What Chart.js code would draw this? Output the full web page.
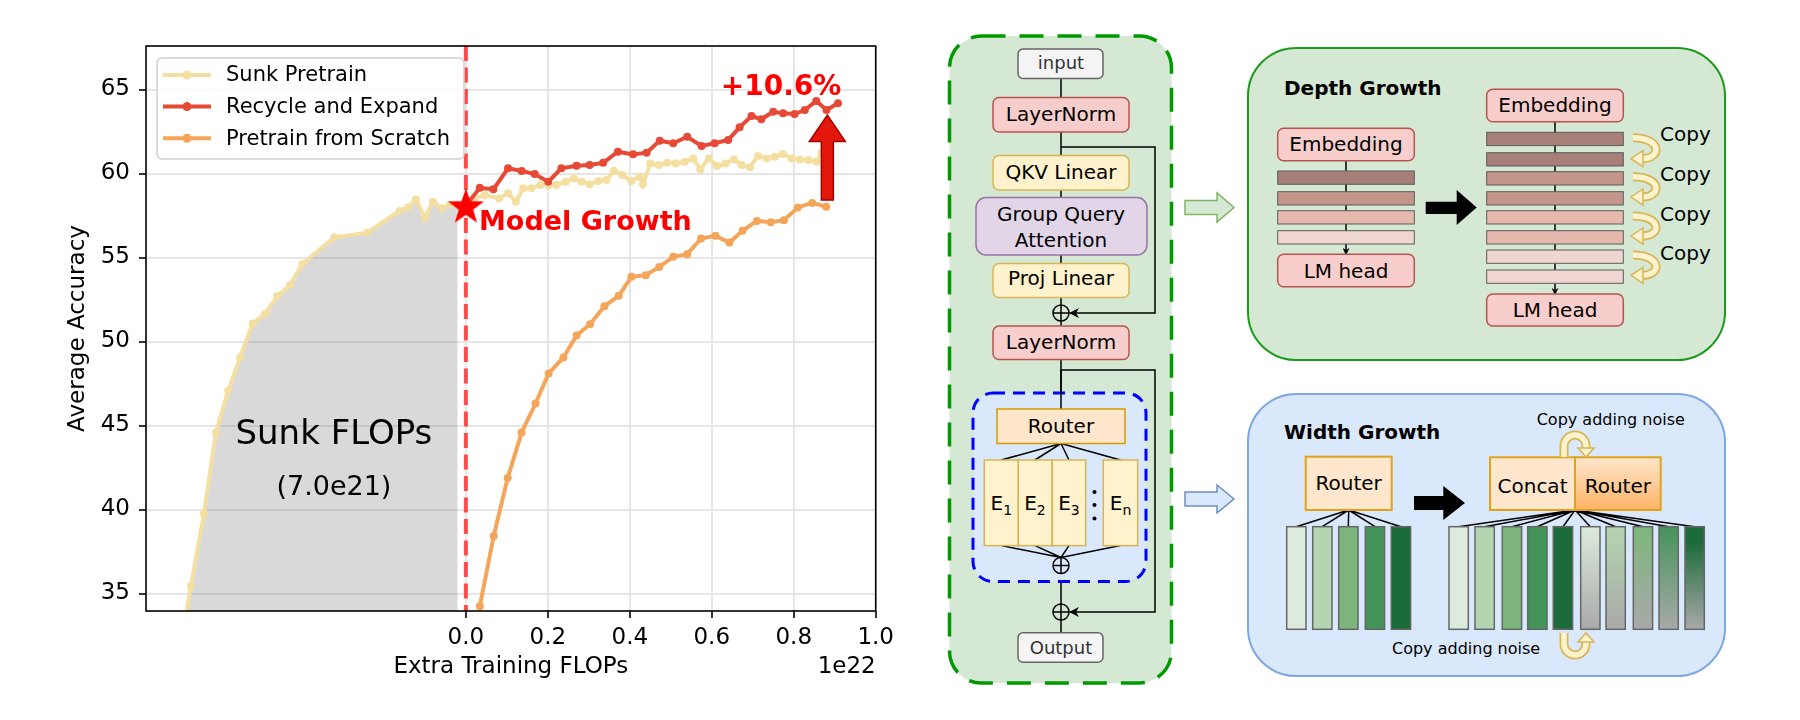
<!DOCTYPE html>
<html>
<head>
<meta charset="utf-8">
<script src="https://cdn.jsdelivr.net/npm/chart.js@4.4.0/dist/chart.umd.min.js"></script>
<style>
  html, body { margin: 0; padding: 0; background: #fff; }
  #wrap { position: relative; width: 1800px; height: 720px; overflow: hidden; }
  #chart { position: absolute; left: 0; top: 0; }
  #diagram { position: absolute; left: 900px; top: 0; }
</style>
</head>
<body>
<div id="wrap">
<canvas id="chart" width="900" height="720"></canvas>

<svg id="diagram" width="900" height="720" viewBox="900 0 900 720" font-family="DejaVu Sans, sans-serif">
  <defs>
    <marker id="ah" markerWidth="10" markerHeight="10" refX="9" refY="5" orient="auto" markerUnits="userSpaceOnUse">
      <path d="M0,0 L10,5 L0,10 L3,5 z" fill="#000"/>
    </marker>
    <marker id="ahs" markerWidth="7" markerHeight="7" refX="6" refY="3.5" orient="auto" markerUnits="userSpaceOnUse">
      <path d="M0,0 L7,3.5 L0,7 L2,3.5 z" fill="#000"/>
    </marker>
    <linearGradient id="rt" x1="0" y1="0" x2="0" y2="1">
      <stop offset="0" stop-color="#ffe6cc"/><stop offset="1" stop-color="#ffb366"/>
    </linearGradient>
    <linearGradient id="gA" x1="0" y1="0" x2="0" y2="1"><stop offset="0" stop-color="#dcebdb"/><stop offset="1" stop-color="#a9a9a9"/></linearGradient>
    <linearGradient id="gB" x1="0" y1="0" x2="0" y2="1"><stop offset="0" stop-color="#b3d5af"/><stop offset="1" stop-color="#a9a9a9"/></linearGradient>
    <linearGradient id="gC" x1="0" y1="0" x2="0" y2="1"><stop offset="0" stop-color="#7db67c"/><stop offset="1" stop-color="#a9a9a9"/></linearGradient>
    <linearGradient id="gD" x1="0" y1="0" x2="0" y2="1"><stop offset="0" stop-color="#44945a"/><stop offset="1" stop-color="#a9a9a9"/></linearGradient>
    <linearGradient id="gE" x1="0" y1="0" x2="0" y2="1"><stop offset="0" stop-color="#1c6b3b"/><stop offset="0.15" stop-color="#1c6b3b"/><stop offset="1" stop-color="#a9a9a9"/></linearGradient>
  </defs>

  <!-- MoE block -->
  <rect x="949.5" y="36" width="222" height="647" rx="32" fill="#d5e8d4" stroke="#009900" stroke-width="3.5" stroke-dasharray="24 14"/>
  <path d="M1061 78 V97 M1061 132 V155 M1061 190 V197 M1061 255 V263 M1061 297 V305 M1061 321 V326 M1061 359 V409 M1061 573 V604 M1061 620 V633"
        stroke="#000" stroke-width="1.5" fill="none"/>
  <path d="M1061 147 H1155 V313 H1070" stroke="#000" stroke-width="1.5" fill="none" marker-end="url(#ah)"/>
  <path d="M1061 370 H1155 V612 H1070" stroke="#000" stroke-width="1.5" fill="none" marker-end="url(#ah)"/>

  <rect x="1018" y="49" width="85" height="29.5" rx="5" fill="#f5f5f5" stroke="#666" stroke-width="1.5"/>
  <text x="1061" y="68.5" font-size="18" fill="#333" text-anchor="middle">input</text>

  <rect x="993" y="97.5" width="136" height="34.5" rx="6" fill="#f8cecc" stroke="#b85450" stroke-width="1.5"/>
  <text x="1061" y="120.5" font-size="20" text-anchor="middle">LayerNorm</text>

  <rect x="993" y="155.5" width="136" height="34.5" rx="6" fill="#fff2cc" stroke="#d6b656" stroke-width="1.5"/>
  <text x="1061" y="178.5" font-size="20" text-anchor="middle">QKV Linear</text>

  <rect x="976" y="197.5" width="171" height="57.5" rx="10" fill="#e1d5e7" stroke="#9673a6" stroke-width="1.5"/>
  <text x="1061" y="220.5" font-size="20" text-anchor="middle">Group Query</text>
  <text x="1061" y="246.5" font-size="20" text-anchor="middle">Attention</text>

  <rect x="993" y="263.5" width="136" height="34" rx="6" fill="#fff2cc" stroke="#d6b656" stroke-width="1.5"/>
  <text x="1061" y="285" font-size="20" text-anchor="middle">Proj Linear</text>

  <g stroke="#000" stroke-width="1.5" fill="none">
    <circle cx="1061" cy="313" r="8"/><path d="M1053 313 H1069 M1061 305 V321"/>
  </g>

  <rect x="993" y="326" width="136" height="33.5" rx="6" fill="#f8cecc" stroke="#b85450" stroke-width="1.5"/>
  <text x="1061" y="348.5" font-size="20" text-anchor="middle">LayerNorm</text>

  <rect x="973" y="393" width="173" height="188.5" rx="20" fill="#dae8fc" stroke="#0000ff" stroke-width="3" stroke-dasharray="12 8"/>
  <path d="M1061 370 V409" stroke="#000" stroke-width="1.5"/>
  <path d="M1061 443.5 L1001.3 460 M1061 443.5 L1035 460 M1061 443.5 L1069 460 M1061 443.5 L1120.5 460
           M1001.3 545.6 L1061 557.5 M1035 545.6 L1061 557.5 M1069 545.6 L1061 557.5 M1120.5 545.6 L1061 557.5"
        stroke="#000" stroke-width="1.5" fill="none"/>
  <rect x="997" y="409" width="128" height="34.5" fill="#ffe6cc" stroke="#d79b00" stroke-width="1.5"/>
  <text x="1061" y="433" font-size="20" text-anchor="middle">Router</text>

  <g fill="#fff2cc" stroke="#d6b656" stroke-width="1.5">
    <rect x="984.3" y="460" width="34" height="85.6"/>
    <rect x="1018.3" y="460" width="33.7" height="85.6"/>
    <rect x="1052.3" y="460" width="33.4" height="85.6"/>
    <rect x="1103.3" y="460" width="34.4" height="85.6"/>
  </g>
  <g font-size="20" text-anchor="middle">
    <text x="1001.3" y="510">E<tspan font-size="14" dy="5">1</tspan></text>
    <text x="1035" y="510">E<tspan font-size="14" dy="5">2</tspan></text>
    <text x="1069" y="510">E<tspan font-size="14" dy="5">3</tspan></text>
    <text x="1120.5" y="510">E<tspan font-size="14" dy="5">n</tspan></text>
  </g>
  <g fill="#000"><circle cx="1094.5" cy="492" r="2"/><circle cx="1094.5" cy="505" r="2"/><circle cx="1094.5" cy="518.5" r="2"/></g>

  <g stroke="#000" stroke-width="1.5" fill="none">
    <circle cx="1061" cy="565.5" r="8"/><path d="M1053 565.5 H1069 M1061 557.5 V573.5"/>
    <circle cx="1061" cy="612" r="8"/><path d="M1053 612 H1069 M1061 604 V620"/>
  </g>

  <rect x="1018" y="632.7" width="85" height="29.5" rx="5" fill="#f5f5f5" stroke="#666" stroke-width="1.5"/>
  <text x="1061" y="654" font-size="18" fill="#333" text-anchor="middle">Output</text>

  <!-- link arrows -->
  <polygon points="1185,200.5 1217,200.5 1217,193 1234,207.5 1217,222 1217,214.5 1185,214.5" fill="#d5e8d4" stroke="#82b366" stroke-width="1.5"/>
  <polygon points="1185,492 1217,492 1217,485 1234,499 1217,513 1217,506 1185,506" fill="#dae8fc" stroke="#6c8ebf" stroke-width="1.5"/>

  <!-- Depth growth -->
  <rect x="1248" y="48" width="477" height="312" rx="48" fill="#d5e8d4" stroke="#1a9c1a" stroke-width="2"/>
  <text x="1284" y="95" font-size="20" font-weight="bold">Depth Growth</text>

  <path d="M1346 161 V254" stroke="#000" stroke-width="1.5" marker-end="url(#ahs)"/>
  <rect x="1277.7" y="128.3" width="136.6" height="32.4" rx="6" fill="#f8cecc" stroke="#b85450" stroke-width="1.5"/>
  <text x="1346" y="151" font-size="20" text-anchor="middle">Embedding</text>
  <g stroke="#5a5a5a" stroke-width="1">
    <rect x="1277.7" y="171" width="136.6" height="13.3" fill="#a67f78"/>
    <rect x="1277.7" y="191.7" width="136.6" height="13.3" fill="#c4968b"/>
    <rect x="1277.7" y="210.7" width="136.6" height="13.3" fill="#e5b9ad"/>
    <rect x="1277.7" y="230.7" width="136.6" height="13.3" fill="#efd6d1"/>
  </g>
  <rect x="1277.7" y="254.3" width="136.6" height="32.4" rx="6" fill="#f8cecc" stroke="#b85450" stroke-width="1.5"/>
  <text x="1346" y="278.3" font-size="20" text-anchor="middle">LM head</text>

  <polygon points="1425.7,201.7 1456.7,201.7 1456.7,190 1476.7,207.5 1456.7,225 1456.7,214 1425.7,214" fill="#000"/>

  <path d="M1555 122 V294" stroke="#000" stroke-width="1.5" marker-end="url(#ahs)"/>
  <rect x="1486.7" y="89.3" width="136.6" height="32.4" rx="6" fill="#f8cecc" stroke="#b85450" stroke-width="1.5"/>
  <text x="1555" y="112" font-size="20" text-anchor="middle">Embedding</text>
  <g stroke="#5a5a5a" stroke-width="1">
    <rect x="1486.7" y="132.3" width="136.6" height="13.3" fill="#a67f78"/>
    <rect x="1486.7" y="152.7" width="136.6" height="13.3" fill="#a67f78"/>
    <rect x="1486.7" y="171.7" width="136.6" height="13.3" fill="#c4968b"/>
    <rect x="1486.7" y="191.7" width="136.6" height="13.3" fill="#c4968b"/>
    <rect x="1486.7" y="210.7" width="136.6" height="13.3" fill="#e5b9ad"/>
    <rect x="1486.7" y="230.7" width="136.6" height="13.3" fill="#e5b9ad"/>
    <rect x="1486.7" y="250" width="136.6" height="13.3" fill="#efd6d1"/>
    <rect x="1486.7" y="270" width="136.6" height="13.3" fill="#efd6d1"/>
  </g>
  <rect x="1486.7" y="294" width="136.6" height="32" rx="6" fill="#f8cecc" stroke="#b85450" stroke-width="1.5"/>
  <text x="1555" y="317" font-size="20" text-anchor="middle">LM head</text>

  <g id="copies" fill="none"></g>
  <g font-size="20">
    <text x="1660" y="141">Copy</text>
    <text x="1660" y="181">Copy</text>
    <text x="1660" y="220.5">Copy</text>
    <text x="1660" y="259.5">Copy</text>
  </g>

  <!-- Width growth -->
  <rect x="1248" y="394" width="477" height="282" rx="48" fill="#dae8fc" stroke="#7ea6e0" stroke-width="2"/>
  <text x="1284" y="439" font-size="20" font-weight="bold">Width Growth</text>

  <path d="M1348.7 510 L1296.3 526.7 M1348.7 510 L1322.3 526.7 M1348.7 510 L1348.3 526.7 M1348.7 510 L1375 526.7 M1348.7 510 L1401 526.7"
        stroke="#000" stroke-width="1.5" fill="none"/>
  <rect x="1305.7" y="456.7" width="86" height="53.3" fill="#ffe6cc" stroke="#e0a21c" stroke-width="2"/>
  <text x="1348.7" y="490" font-size="20" text-anchor="middle">Router</text>
  <g stroke="#666" stroke-width="1.5">
    <rect x="1286.7" y="526.7" width="19.3" height="102.6" fill="#dcebdb"/>
    <rect x="1312.7" y="526.7" width="19.3" height="102.6" fill="#b3d5af"/>
    <rect x="1338.7" y="526.7" width="19.3" height="102.6" fill="#7db67c"/>
    <rect x="1365.3" y="526.7" width="19.3" height="102.6" fill="#44945a"/>
    <rect x="1391.3" y="526.7" width="19.3" height="102.6" fill="#1c6b3b"/>
  </g>

  <polygon points="1414,496 1443.3,496 1443.3,486 1465,503 1443.3,520 1443.3,510 1414,510" fill="#000"/>

  <path d="M1575 510 L1458.6 526.7 M1575 510 L1484.6 526.7 M1575 510 L1512 526.7 M1575 510 L1537.3 526.7 M1575 510 L1563 526.7
           M1575 510 L1590.3 526.7 M1575 510 L1615.6 526.7 M1575 510 L1643 526.7 M1575 510 L1668.6 526.7 M1575 510 L1694.6 526.7"
        stroke="#000" stroke-width="1.5" fill="none"/>
  <rect x="1490" y="457.3" width="85" height="52.7" fill="#ffe6cc" stroke="#e0a21c" stroke-width="2"/>
  <text x="1532.5" y="493" font-size="20" text-anchor="middle">Concat</text>
  <rect x="1575" y="457.3" width="85.7" height="52.7" fill="url(#rt)" stroke="#e0a21c" stroke-width="2"/>
  <text x="1617.8" y="493" font-size="20" text-anchor="middle">Router</text>
  <g stroke="#666" stroke-width="1.5">
    <rect x="1449" y="526.7" width="19.3" height="102.6" fill="#dcebdb"/>
    <rect x="1475" y="526.7" width="19.3" height="102.6" fill="#b3d5af"/>
    <rect x="1502.3" y="526.7" width="19.3" height="102.6" fill="#7db67c"/>
    <rect x="1527.7" y="526.7" width="19.3" height="102.6" fill="#44945a"/>
    <rect x="1553.3" y="526.7" width="19.3" height="102.6" fill="#1c6b3b"/>
    <rect x="1580.7" y="526.7" width="19.3" height="102.6" fill="url(#gA)"/>
    <rect x="1606" y="526.7" width="19.3" height="102.6" fill="url(#gB)"/>
    <rect x="1633.3" y="526.7" width="19.3" height="102.6" fill="url(#gC)"/>
    <rect x="1659" y="526.7" width="19.3" height="102.6" fill="url(#gD)"/>
    <rect x="1685" y="526.7" width="19.3" height="102.6" fill="url(#gE)"/>
  </g>
  <g font-size="16">
    <text x="1536.7" y="425">Copy adding noise</text>
    <text x="1392" y="653.5">Copy adding noise</text>
  </g>
  <g id="noiseArrows"></g>
</svg>
</div>

<script>
// ---- data (x in units of 1e22 FLOPs, y = average accuracy) ----
const sunkX = [-0.701, -0.671, -0.639, -0.610, -0.580, -0.551, -0.520, -0.490, -0.460, -0.429, -0.399,
  -0.321, -0.241, -0.161, -0.141, -0.122, -0.100, -0.080, -0.059, -0.039, -0.020,
  0.000, 0.020, 0.046, 0.081, 0.103, 0.122, 0.140, 0.160, 0.182, 0.202,
  0.221, 0.244, 0.263, 0.282, 0.302, 0.323, 0.343, 0.361, 0.382, 0.404,
  0.424, 0.432, 0.450, 0.471, 0.491, 0.512, 0.534, 0.555, 0.572, 0.593,
  0.613, 0.634, 0.654, 0.673, 0.693, 0.713, 0.734, 0.754, 0.773, 0.795,
  0.815, 0.836, 0.856, 0.868];
const sunkY = [31.0, 35.45, 39.77, 44.57, 47.07, 49.06, 51.08, 51.64, 52.71, 53.36, 54.61,
  56.2, 56.48, 57.79, 57.98, 58.46, 57.37, 58.32, 57.93, 58.12, 58.1,
  58.1, 58.5, 58.72, 58.52, 58.82, 58.32, 59.12, 59.12, 59.32, 59.3,
  59.32, 59.51, 59.71, 59.51, 59.36, 59.55, 59.61, 60.17, 59.91, 59.55,
  59.81, 59.36, 60.6, 60.5, 60.64, 60.6, 60.7, 60.9, 60.25, 60.9,
  60.45, 60.6, 60.84, 60.5, 60.37, 61.04, 60.9, 61.0, 61.16, 60.9,
  60.84, 60.8, 60.7, 61.2];

const recycleX = [0.000, 0.034, 0.067, 0.103, 0.136, 0.168, 0.201, 0.233, 0.270, 0.302, 0.335,
  0.371, 0.408, 0.441, 0.473, 0.506, 0.540, 0.575, 0.607, 0.640, 0.668,
  0.697, 0.721, 0.750, 0.774, 0.802, 0.827, 0.855, 0.880, 0.908];
const recycleY = [58.1, 59.15, 59.06, 60.31, 60.15, 59.97, 59.51, 60.31, 60.46, 60.51, 60.64,
  61.3, 61.14, 61.24, 61.95, 61.8, 62.19, 61.64, 61.8, 62.0, 62.75,
  63.42, 63.23, 63.68, 63.58, 63.54, 63.78, 64.32, 63.78, 64.18];

const scratchX = [0.034, 0.068, 0.102, 0.136, 0.170, 0.202, 0.238, 0.270, 0.303, 0.338, 0.373,
  0.404, 0.439, 0.472, 0.506, 0.540, 0.574, 0.609, 0.643, 0.675, 0.710,
  0.744, 0.776, 0.810, 0.845, 0.879];
const scratchY = [34.25, 38.43, 41.88, 44.58, 46.31, 48.1, 49.05, 50.36, 51.03, 52.1, 52.72,
  53.85, 53.95, 54.44, 55.04, 55.2, 56.13, 56.29, 55.89, 56.59, 57.18,
  57.1, 57.22, 57.98, 58.25, 58.02];

const xTicks = [0.0, 0.2, 0.4, 0.6, 0.8, 1.0];
const yTicks = [35, 40, 45, 50, 55, 60, 65];
const legendOrder = ['Sunk Pretrain', 'Recycle and Expand', 'Pretrain from Scratch'];

const growthPoint = { x: 0, y: 58.1 };
const sunkEnd = -0.02;
const gainArrow = { x: 0.882, from: 58.42, to: 63.48, headAt: 61.9 };

const colSunk = '#f4dfa0';
const colRecycle = '#e64a36';
const colScratch = '#f5a55a';
const FONT = '"DejaVu Sans", sans-serif';

const toPts = (xs, ys) => xs.map((x, i) => ({ x: x, y: ys[i] }));

function makeStar(size, color) {
  const c = document.createElement('canvas');
  c.width = size; c.height = size;
  const g = c.getContext('2d');
  const R = size / 2, r = R * 0.4;
  g.beginPath();
  for (let i = 0; i < 10; i++) {
    const a = -Math.PI / 2 + i * Math.PI / 5;
    const rad = i % 2 ? r : R;
    g.lineTo(R + rad * Math.cos(a), R + rad * 1.0 * Math.sin(a) + R * 0.1);
  }
  g.closePath();
  g.fillStyle = color;
  g.fill();
  return c;
}

const extras = {
  id: 'extras',
  beforeDatasetsDraw(chart) {
    const { ctx, chartArea: a, scales: { x } } = chart;
    const px = x.getPixelForValue(growthPoint.x);
    ctx.save();
    ctx.strokeStyle = 'rgba(255,30,30,0.78)';
    ctx.lineWidth = 4;
    ctx.setLineDash([15, 6.5]);
    ctx.beginPath();
    ctx.moveTo(px, a.top);
    ctx.lineTo(px, a.bottom);
    ctx.stroke();
    ctx.restore();
  },
  afterDatasetsDraw(chart) {
    const { ctx, scales: { x, y } } = chart;
    ctx.save();
    // red gain arrow
    const cx = x.getPixelForValue(gainArrow.x);
    const yb = y.getPixelForValue(gainArrow.from);
    const yt = y.getPixelForValue(gainArrow.to);
    const yh = y.getPixelForValue(gainArrow.headAt);
    ctx.beginPath();
    ctx.moveTo(cx - 6, yb); ctx.lineTo(cx - 6, yh); ctx.lineTo(cx - 18, yh);
    ctx.lineTo(cx, yt); ctx.lineTo(cx + 18, yh); ctx.lineTo(cx + 6, yh); ctx.lineTo(cx + 6, yb);
    ctx.closePath();
    ctx.fillStyle = '#e3170a';
    ctx.fill();
    ctx.strokeStyle = '#a30000';
    ctx.lineWidth = 1.5;
    ctx.stroke();

    ctx.fillStyle = '#ff0000';
    ctx.textBaseline = 'alphabetic';
    ctx.textAlign = 'left';
    ctx.font = 'bold 27px ' + FONT;
    ctx.fillText('Model Growth', x.getPixelForValue(0.032), y.getPixelForValue(56.64));
    ctx.font = 'bold 28px ' + FONT;
    ctx.fillText('+10.6%', x.getPixelForValue(0.622), y.getPixelForValue(64.67));

    ctx.fillStyle = '#000';
    ctx.textAlign = 'center';
    ctx.font = '34px ' + FONT;
    ctx.fillText('Sunk FLOPs', x.getPixelForValue(-0.322), y.getPixelForValue(43.9));
    ctx.font = '27px ' + FONT;
    ctx.fillText('(7.0e21)', x.getPixelForValue(-0.322), y.getPixelForValue(40.86));
    ctx.restore();
  },
  afterDraw(chart) {
    const { ctx, chartArea: a } = chart;
    ctx.save();
    ctx.strokeStyle = '#000';
    ctx.lineWidth = 1.6;
    ctx.strokeRect(a.left, a.top, a.right - a.left, a.bottom - a.top);

    // legend inside the plot
    const bx = a.left + 11, by = a.top + 12, bw = 307, bh = 101;
    ctx.beginPath();
    ctx.roundRect(bx, by, bw, bh, 5);
    ctx.fillStyle = 'rgba(255,255,255,0.8)';
    ctx.fill();
    ctx.strokeStyle = '#d0d0d0';
    ctx.lineWidth = 1.5;
    ctx.stroke();
    ctx.font = '21px ' + FONT;
    ctx.textBaseline = 'middle';
    ctx.textAlign = 'left';
    legendOrder.forEach((name, i) => {
      const ds = chart.data.datasets.find(d => d.label === name);
      const ly = by + 17 + i * 31.6;
      ctx.strokeStyle = ds.borderColor;
      ctx.lineWidth = 4;
      ctx.beginPath();
      ctx.moveTo(bx + 6, ly); ctx.lineTo(bx + 54, ly);
      ctx.stroke();
      ctx.fillStyle = ds.borderColor;
      ctx.beginPath();
      ctx.arc(bx + 30, ly, 4.5, 0, Math.PI * 2);
      ctx.fill();
      ctx.fillStyle = '#000';
      ctx.fillText(name, bx + 69, ly + 1);
    });

    ctx.font = '23px ' + FONT;
    ctx.textAlign = 'right';
    ctx.fillText('1e22', a.right, 667);
    ctx.restore();
  }
};

const lineDs = (label, xs, ys, color, order) => ({
  label: label,
  data: toPts(xs, ys),
  borderColor: color,
  backgroundColor: color,
  borderWidth: 4,
  pointRadius: 4,
  pointBorderWidth: 0,
  tension: 0,
  order: order
});

new Chart(document.getElementById('chart'), {
  type: 'line',
  data: {
    datasets: [
      {
        label: 'growth',
        data: [growthPoint],
        showLine: false,
        pointStyle: makeStar(38, '#ff0000'),
        pointRadius: 19,
        order: 0
      },
      lineDs('Recycle and Expand', recycleX, recycleY, colRecycle, 1),
      lineDs('Sunk Pretrain', sunkX, sunkY, colSunk, 2),
      lineDs('Pretrain from Scratch', scratchX, scratchY, colScratch, 3),
      {
        label: 'sunk area',
        data: toPts(sunkX, sunkY).filter(p => p.x <= sunkEnd),
        borderColor: 'rgba(0,0,0,0)',
        borderWidth: 0,
        pointRadius: 0,
        fill: 'start',
        backgroundColor: 'rgba(128,128,128,0.3)',
        order: 4
      }
    ]
  },
  options: {
    responsive: false,
    animation: false,
    devicePixelRatio: 1,
    events: [],
    layout: { padding: { left: 0, right: 24, top: 46, bottom: 0 } },
    plugins: { legend: { display: false }, tooltip: { enabled: false } },
    scales: {
      x: {
        type: 'linear',
        min: -0.7805,
        max: 1.0,
        afterBuildTicks: s => { s.ticks = xTicks.map(v => ({ value: v })); },
        afterFit: s => { s.height = 109; },
        border: { display: false },
        grid: { color: '#e6e6e6', lineWidth: 2, tickColor: '#000', tickLength: 7, tickWidth: 1.6 },
        ticks: { color: '#000', font: { family: FONT, size: 23 }, padding: 6, maxRotation: 0,
                 callback: v => v.toFixed(1) },
        title: { display: true, text: 'Extra Training FLOPs', color: '#000',
                 font: { family: FONT, size: 23 }, padding: { top: 0, bottom: 39 } }
      },
      y: {
        min: 33.96,
        max: 67.59,
        afterBuildTicks: s => { s.ticks = yTicks.map(v => ({ value: v })); },
        afterFit: s => { s.width = 146; },
        border: { display: false },
        grid: { color: '#e6e6e6', lineWidth: 2, tickColor: '#000', tickLength: 7, tickWidth: 1.6 },
        ticks: { color: '#000', font: { family: FONT, size: 23 }, padding: 9,
                 callback: v => String(v) },
        title: { display: true, text: 'Average Accuracy', color: '#000',
                 font: { family: FONT, size: 23 }, padding: { top: 64, bottom: 0 } }
      }
    }
  },
  plugins: [extras]
});

// curved "copy" arrows of the depth panel
const NS = 'http://www.w3.org/2000/svg';
function svgEl(parent, tag, attrs) {
  const el = document.createElementNS(NS, tag);
  for (const k in attrs) el.setAttribute(k, attrs[k]);
  parent.appendChild(el);
  return el;
}
function yellowArrow(parent, d, head) {
  svgEl(parent, 'path', { d: d, stroke: '#d6b656', 'stroke-width': 9, fill: 'none' });
  svgEl(parent, 'path', { d: d, stroke: '#fff2cc', 'stroke-width': 5.5, fill: 'none' });
  svgEl(parent, 'polygon', { points: head, fill: '#fff2cc', stroke: '#d6b656', 'stroke-width': 1.5 });
}
const copies = document.getElementById('copies');
[[131.7, 166.7], [170.7, 205], [210, 244], [249, 283.3]].forEach(([t, b]) => {
  const y1 = t + 6, y2 = b - 8;
  yellowArrow(copies, `M1633 ${y1} C1662 ${y1}, 1662 ${y2}, 1642 ${y2}`,
    `1643,${y2 - 8} 1631,${y2} 1643,${y2 + 8}`);
});
const noise = document.getElementById('noiseArrows');
yellowArrow(noise, 'M1564 457 V446 A11 11 0 0 1 1586 446 V449', '1578,448 1594,448 1586,457');
yellowArrow(noise, 'M1564 633 V644 A11 11 0 0 0 1586 644 V641', '1578,642 1594,642 1586,633');
</script>
</body>
</html>
